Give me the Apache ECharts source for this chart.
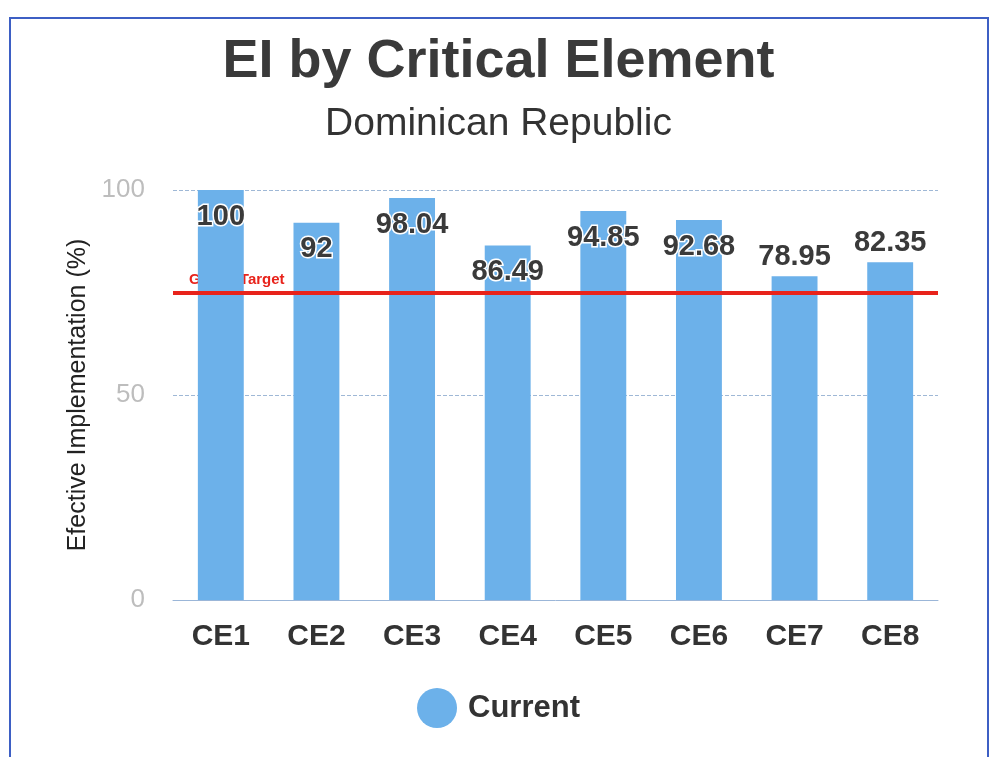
<!DOCTYPE html>
<html>
<head>
<meta charset="utf-8">
<script src="https://cdn.jsdelivr.net/npm/echarts@6/dist/echarts.min.js"></script>
<style>
  html, body { margin: 0; padding: 0; background: #fff; }
  #main { width: 997px; height: 757px; }
</style>
</head>
<body>
<div id="main"></div>
<script>
var categories = ['CE1', 'CE2', 'CE3', 'CE4', 'CE5', 'CE6', 'CE7', 'CE8'];
var current = [100, 92, 98.04, 86.49, 94.85, 92.68, 78.95, 82.35];
var globalTarget = 75;
var yTicks = [0, 50, 100];

var chart = echarts.init(document.getElementById('main'));

// labels on short bars sit above the bar, the rest inside the top
var barData = current.map(function(v) {
	return {
		value: v,
		label: v < 85 ? { position: 'top', distance: 5 } : { position: 'insideTop', distance: 12 }
	};
});

var option = {
	animation: false,
	title: [{
		text: 'EI by Critical Element',
		left: 'center',
		top: 30,
		textStyle: { fontFamily: 'Liberation Sans', fontSize: 54, fontWeight: 'bold', color: '#3a3a3a' }
	}, {
		text: 'Dominican Republic',
		left: 'center',
		top: 100,
		textStyle: { fontFamily: 'Liberation Sans', fontSize: 39, fontWeight: 'normal', color: '#333' }
	}],
	graphic: [{
		type: 'rect',
		shape: { x: 10, y: 18, width: 978, height: 760 },
		style: { fill: 'none', stroke: '#3d5fc4', lineWidth: 2 }
	}],
	legend: {
		data: ['Current'],
		bottom: 24,
		left: 'center',
		icon: 'circle',
		itemWidth: 40,
		itemHeight: 40,
		itemGap: 14,
		textStyle: { fontFamily: 'Liberation Sans', fontSize: 31, fontWeight: 'bold', color: '#333', padding: [0, 0, 0, 6] }
	},
	grid: { left: 173, right: 59, top: 190, bottom: 157 },
	xAxis: {
		type: 'category',
		data: categories,
		axisLine: { lineStyle: { color: '#9bb6d8', width: 1 } },
		axisTick: { show: false },
		axisLabel: { fontFamily: 'Liberation Sans', fontSize: 30, fontWeight: 'bold', color: '#333', margin: 22 }
	},
	yAxis: {
		type: 'value',
		min: 0,
		max: 100,
		interval: 50,
		name: 'Efective Implementation (%)',
		nameLocation: 'middle',
		nameGap: 82,
		nameTextStyle: { fontFamily: 'Liberation Sans', fontSize: 25, color: '#222' },
		axisLine: { show: false },
		axisTick: { show: false },
		axisLabel: {
			fontFamily: 'Liberation Sans', fontSize: 26, color: '#bdbdbd', margin: 28,
			formatter: function(v) { return yTicks.indexOf(v) >= 0 ? v : ''; }
		},
		splitLine: { lineStyle: { color: '#9fb8d6', type: 'dashed', width: 1 } }
	},
	series: [{
		name: 'Current',
		type: 'bar',
		z: 3,
		data: barData,
		barWidth: '48%',
		itemStyle: { color: '#6cb1ea' },
		label: {
			show: true,
			fontFamily: 'Liberation Sans',
			fontSize: 29,
			fontWeight: 'bold',
			color: '#3a3a3a',
			textBorderColor: '#fff',
			textBorderWidth: 3
		},
		markLine: {
			silent: true,
			symbol: 'none',
			z: 10,
			lineStyle: { color: '#e8231b', width: 4, type: 'solid' },
			label: { show: false },
			data: [{ yAxis: globalTarget }]
		}
	}, {
		// label only, drawn under the bars
		name: 'Global Target',
		type: 'line',
		z: 1,
		data: [],
		markLine: {
			silent: true,
			symbol: 'none',
			z: 1,
			lineStyle: { color: 'rgba(0,0,0,0)', width: 1 },
			label: {
				show: true,
				position: 'insideStartTop',
				formatter: 'Global Target',
				distance: [16, 5],
				fontFamily: 'Liberation Sans',
				fontSize: 15,
				fontWeight: 'bold',
				color: '#e8231b'
			},
			data: [{ yAxis: globalTarget }]
		}
	}]
};

chart.setOption(option);
</script>
</body>
</html>
